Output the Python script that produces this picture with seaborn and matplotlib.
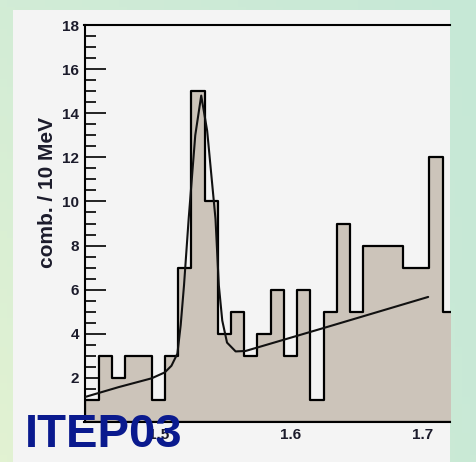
import numpy as np
import pandas as pd
import matplotlib
matplotlib.use("Agg")
import matplotlib.pyplot as plt
import seaborn as sns
from matplotlib.ticker import MultipleLocator, FixedLocator
from matplotlib.patches import Rectangle
from matplotlib.colors import to_rgb

# ---- data ----
bin_centers = [1.45, 1.46, 1.47, 1.48, 1.49, 1.50, 1.51, 1.52, 1.53, 1.54,
               1.55, 1.56, 1.57, 1.58, 1.59, 1.60, 1.61, 1.62, 1.63, 1.64,
               1.65, 1.66, 1.67, 1.68, 1.69, 1.70, 1.71, 1.72]
counts = [1, 3, 2, 3, 3, 1, 3, 7, 15, 10,
          4, 5, 3, 4, 6, 3, 6, 1, 5, 9,
          5, 8, 8, 8, 7, 7, 12, 5]
bin_width = 0.01

fit_x = [1.4445, 1.47, 1.495, 1.505, 1.51, 1.5145, 1.517, 1.5195, 1.523, 1.528,
         1.5325, 1.537, 1.5433, 1.5458, 1.5484, 1.552, 1.5585, 1.566, 1.63, 1.704]
fit_y = [1.13, 1.58, 1.98, 2.25, 2.55, 3.1, 4.4, 6.2, 9.2, 13.0,
         14.8, 13.2, 9.2, 6.2, 4.6, 3.6, 3.2, 3.22, 4.35, 5.67]

y_ticks = [2, 4, 6, 8, 10, 12, 14, 16, 18]
x_ticks = [1.5, 1.6, 1.7]
x_tick_labels = ["1.5", "1.6", "1.7"]
y_label = "comb. / 10 MeV"
badge = "ITEP03"

# ---- style ----
sns.set_theme(style="white")
plt.rcParams['font.family'] = ['Liberation Sans', 'DejaVu Sans']

W, H = 477, 462
fig = plt.figure(figsize=(W / 100, H / 100), dpi=100)

# soft green gradient background
bg = fig.add_axes([0, 0, 1, 1], zorder=-10)
tl, bl = np.array(to_rgb('#d2ecd6')), np.array(to_rgb('#e2f2d2'))
tr, br = np.array(to_rgb('#c6e8d7')), np.array(to_rgb('#c9e9d6'))
u = np.linspace(0, 1, 64)[None, :, None]
v = np.linspace(0, 1, 64)[:, None, None]
grad = (1 - v) * ((1 - u) * bl + u * br) + v * ((1 - u) * tl + u * tr)
bg.imshow(grad, extent=[0, 1, 0, 1], aspect='auto', origin='lower')
bg.axis('off')

panel_col = '#f4f4f4'
fig.patches.append(Rectangle((13 / W, 0), (450 - 13) / W, 1 - 10 / H,
                             transform=fig.transFigure, facecolor=panel_col,
                             edgecolor='none', zorder=-5))

ax = fig.add_axes([84.5 / W, 1 - 422 / H, (450 - 84.5) / W, (422 - 25) / H])
ax.set_facecolor(panel_col)

first_edge = bin_centers[0] - bin_width / 2
last_edge = bin_centers[-1] + bin_width / 2
df = pd.DataFrame({'mass': bin_centers, 'n': counts})
sns.histplot(data=df, x='mass', weights='n', binwidth=bin_width,
             binrange=(first_edge, last_edge), element='step',
             fill=True, color='#ccc4ba', edgecolor='black', linewidth=1.6,
             alpha=1, ax=ax, zorder=2)

sns.lineplot(x=fit_x, y=fit_y, sort=False, color='#111111', linewidth=1.5,
             ax=ax, zorder=3)

ax.set_xlim(1.4443, 1.7205)
ax.set_ylim(0, 18)

txt_col = '#1b1b2b'
ax.yaxis.set_major_locator(FixedLocator(y_ticks))
ax.yaxis.set_minor_locator(MultipleLocator(0.5))
ax.set_yticklabels([str(t) for t in y_ticks], fontweight='bold')
ax.set_xticks(x_ticks)
ax.set_xticklabels(x_tick_labels, fontweight='bold')
ax.xaxis.set_minor_locator(MultipleLocator(0.05))

ax.tick_params(axis='both', which='both', direction='in', colors='black',
               labelcolor=txt_col, labelsize=11, width=1.2,
               bottom=True, left=True, top=False, right=False)
ax.tick_params(axis='y', which='major', length=15, pad=4)
ax.tick_params(axis='y', which='minor', length=8)
ax.tick_params(axis='x', which='major', length=8.5, pad=4)
ax.tick_params(axis='x', which='minor', length=5)

for side in ['left', 'bottom', 'top']:
    ax.spines[side].set_visible(True)
    ax.spines[side].set_color('black')
    ax.spines[side].set_linewidth(1.5)
ax.spines['right'].set_visible(False)

ax.set_xlabel('')
ax.set_ylabel(y_label, fontsize=15, fontweight='bold', color=txt_col)
ax.yaxis.set_label_coords(-0.075, 0.579)

fig.text(25 / W, 1 - 447 / H, badge, fontsize=34, fontweight='bold',
         color='#0a1a8e', ha='left', va='baseline', zorder=10)

fig.savefig('out.png', dpi=100)
